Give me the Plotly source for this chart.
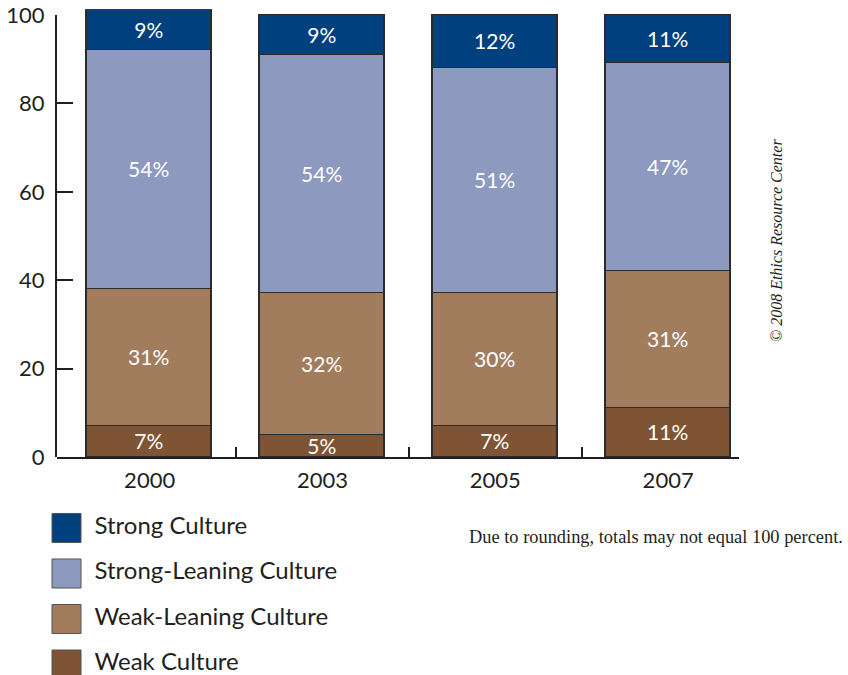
import plotly.graph_objects as go

# Survey years and share of respondents (%) by ethical-culture category
years = ["2000", "2003", "2005", "2007"]
weak = [7, 5, 7, 11]
weak_leaning = [31, 32, 30, 31]
strong_leaning = [54, 54, 51, 47]
strong = [9, 9, 12, 11]

y_ticks = [0, 20, 40, 60, 80, 100]

# Stacked from the bottom up
series_names = ["Weak Culture", "Weak-Leaning Culture", "Strong-Leaning Culture", "Strong Culture"]
series_values = [weak, weak_leaning, strong_leaning, strong]
series_colors = ["#7e5434", "#a17c5d", "#8d99bf", "#00407e"]

INK = "#231f20"
SANS = "Lato, 'Open Sans', sans-serif"
SERIF = "'Liberation Serif', 'DejaVu Serif', serif"

W, H = 848, 675
# axis frame in pixels
PX0, PX1, PY0, PY1 = 57, 739, 15, 457
# bar area reaches a little higher so the 2000 bar (rounds to 101) is not clipped
Y_MAX = 101.3
PY_TOP = PY1 - (PY1 - PY0) * Y_MAX / 100

positions = list(range(len(years)))
x_range = [-0.536, 3.41]
boundaries = [0.5, 1.5, 2.5, 3.405]

fig = go.Figure()

for name, vals, col in zip(series_names, series_values, series_colors):
    fig.add_trace(go.Bar(
        x=positions, y=vals, name=name,
        width=0.724,
        marker=dict(color=col, line=dict(color="#2b2b2b", width=1.6)),
        texttemplate="%{y}%",
        textposition="inside",
        insidetextanchor="middle",
        constraintext="none",
        textfont=dict(family=SANS, size=21, color="white"),
        showlegend=False,
        hoverinfo="skip",
    ))

# secondary x axis only carries the category-boundary ticks
fig.add_trace(go.Scatter(x=[], y=[], xaxis="x2", yaxis="y", showlegend=False))
# visible value axis, 0-100
fig.add_trace(go.Scatter(x=[], y=[], xaxis="x", yaxis="y4", showlegend=False))

# hand-built legend: big swatches plus labels, top to bottom
legend_names = series_names[::-1]
legend_colors = series_colors[::-1]
legend_rows = list(range(len(legend_names)))
fig.add_trace(go.Scatter(
    x=[0] * len(legend_rows), y=legend_rows, xaxis="x3", yaxis="y3",
    mode="markers",
    marker=dict(symbol="square", size=29, color=legend_colors,
                line=dict(color="#555555", width=1)),
    showlegend=False, hoverinfo="skip",
))
fig.add_trace(go.Scatter(
    x=[28] * len(legend_rows), y=legend_rows, xaxis="x3", yaxis="y3",
    mode="text", text=legend_names, textposition="middle right",
    textfont=dict(family=SANS, size=24, color=INK),
    showlegend=False, hoverinfo="skip",
))

fig.update_layout(
    width=W, height=H,
    margin=dict(l=0, r=0, t=0, b=0, autoexpand=False),
    paper_bgcolor="white", plot_bgcolor="rgba(0,0,0,0)",
    barmode="stack",
    bargap=0,
    xaxis=dict(
        domain=[PX0 / W, PX1 / W], range=x_range,
        tickvals=positions, ticktext=years, ticks="",
        showline=True, linecolor=INK, linewidth=2,
        showgrid=False, zeroline=False,
        tickfont=dict(family=SANS, size=22, color=INK),
        ticklabelstandoff=3,
        anchor="y", automargin=False,
    ),
    xaxis2=dict(
        overlaying="x", anchor="y", side="bottom", range=x_range,
        tickvals=boundaries, ticks="inside", ticklen=10, tickwidth=2,
        tickcolor=INK, showticklabels=False, showline=False,
        showgrid=False, zeroline=False, automargin=False,
    ),
    yaxis=dict(
        domain=[1 - PY1 / H, 1 - PY_TOP / H], range=[0, Y_MAX],
        showline=False, ticks="", showticklabels=False,
        showgrid=False, zeroline=False,
        anchor="x", automargin=False,
    ),
    yaxis4=dict(
        domain=[1 - PY1 / H, 1 - PY0 / H], range=[0, 100],
        tickvals=y_ticks, ticks="inside", ticklen=16, tickwidth=2,
        tickcolor=INK,
        showline=True, linecolor=INK, linewidth=2,
        showgrid=False, zeroline=False,
        tickfont=dict(family=SANS, size=22, color=INK),
        ticklabelstandoff=6,
        anchor="x", automargin=False,
    ),
    xaxis3=dict(domain=[0, 0.5], range=[-66.5, 357.5], visible=False,
                anchor="y3", fixedrange=True, automargin=False),
    yaxis3=dict(domain=[0, 175 / H], range=[3.231, -0.615], visible=False,
                anchor="x3", fixedrange=True, automargin=False),
    annotations=[
        dict(text="Due to rounding, totals may not equal 100 percent.",
             xref="paper", yref="paper", x=467 / W, y=1 - 537 / H,
             xanchor="left", yanchor="middle", showarrow=False,
             font=dict(family=SERIF, size=18.4, color=INK)),
        dict(text="© 2008 Ethics Resource Center",
             xref="paper", yref="paper", x=776 / W, y=1 - 241 / H,
             xanchor="center", yanchor="middle", showarrow=False,
             textangle=-90,
             font=dict(family=SERIF, size=16, color=INK, style="italic")),
    ],
)

fig.write_html("out.html")
